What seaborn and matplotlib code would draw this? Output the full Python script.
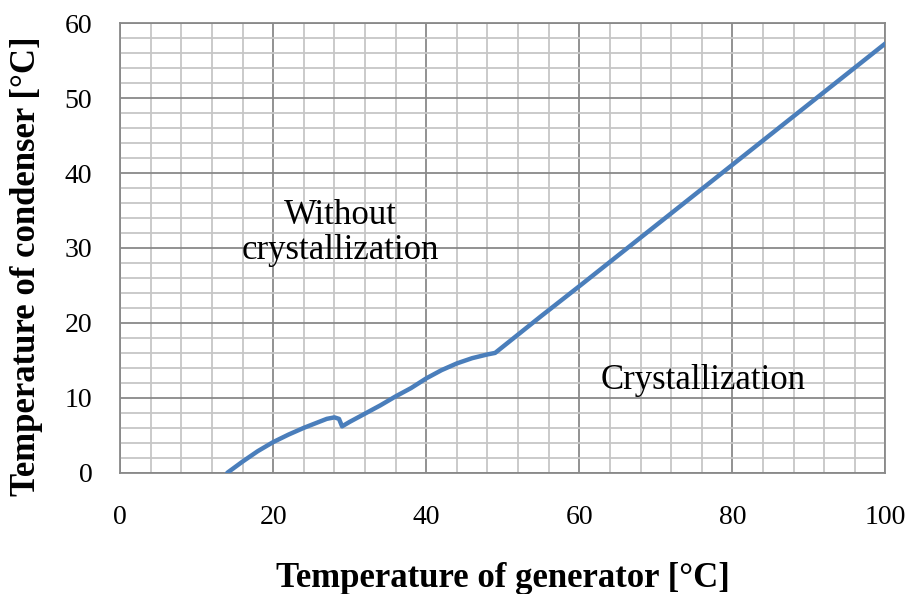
"""Condenser vs generator temperature — crystallization limit curve."""

import numpy as np
import pandas as pd
import matplotlib
matplotlib.use('Agg')
import matplotlib.pyplot as plt
import seaborn as sns
from matplotlib.ticker import MultipleLocator

# Data
t_generator = [14, 16, 18, 20, 22, 24, 26, 27, 28, 28.6, 29, 30, 32, 34, 36, 38,
               40, 42, 44, 46, 48, 49, 55, 60, 70, 80, 90, 100]
t_condenser = [0, 1.5, 2.9, 4.1, 5.1, 6.0, 6.8, 7.2, 7.4, 7.2, 6.2, 6.8, 7.9, 9.0,
               10.2, 11.3, 12.6, 13.7, 14.6, 15.3, 15.8, 16.0, 20.9, 24.9, 33.0,
               41.1, 49.2, 57.3]
x_ticks = [0, 20, 40, 60, 80, 100]
y_ticks = [0, 10, 20, 30, 40, 50, 60]

df = pd.DataFrame({"gen": t_generator, "cond": t_condenser})

sns.set_style("white")
plt.rcParams["font.family"] = ["Liberation Serif", "DejaVu Serif"]
plt.rcParams["text.color"] = "black"

fig = plt.figure(figsize=(9.1, 5.94), dpi=100)
ax = fig.add_axes([0.132, 0.204, 0.841, 0.757])

sns.lineplot(data=df, x="gen", y="cond", ax=ax, color="#4a7ebb", linewidth=3.2,
             sort=False, zorder=3)

ax.set_xlim(0, 100)
ax.set_ylim(0, 60)
ax.xaxis.set_minor_locator(MultipleLocator(4))
ax.yaxis.set_minor_locator(MultipleLocator(2))
ax.set_xticks(x_ticks)
ax.set_yticks(y_ticks)

ax.grid(which="major", color="#898989", linewidth=1.3)
ax.grid(which="minor", color="#c6c6c6", linewidth=1.3)
ax.set_axisbelow(True)

for side in ["top", "right", "left", "bottom"]:
    ax.spines[side].set_color("#898989")
    ax.spines[side].set_linewidth(1.3)

ax.tick_params(which="major", direction="out", length=6, color="#898989",
               labelsize=20, labelcolor="black")
ax.tick_params(axis="x", which="major", pad=17)
ax.tick_params(axis="y", which="major", pad=14)
ax.tick_params(which="minor", length=0)

ax.set_xlabel("Temperature of generator [°C]", fontsize=25, fontweight="bold",
              color="black", va="center")
ax.set_ylabel("Temperature of condenser [°C]", fontsize=25, fontweight="bold",
              color="black", va="center")
ax.xaxis.set_label_coords(0.5, -0.236)
ax.yaxis.set_label_coords(-0.122, 0.46)

ax.text(28.8, 32.0, "Without\ncrystallization", fontsize=25, ha="center", va="center",
        linespacing=1.05, zorder=4)
ax.text(76.2, 12.3, "Crystallization", fontsize=25, ha="center", va="center", zorder=4)

plt.savefig("out.png", dpi=100)
plt.close()
